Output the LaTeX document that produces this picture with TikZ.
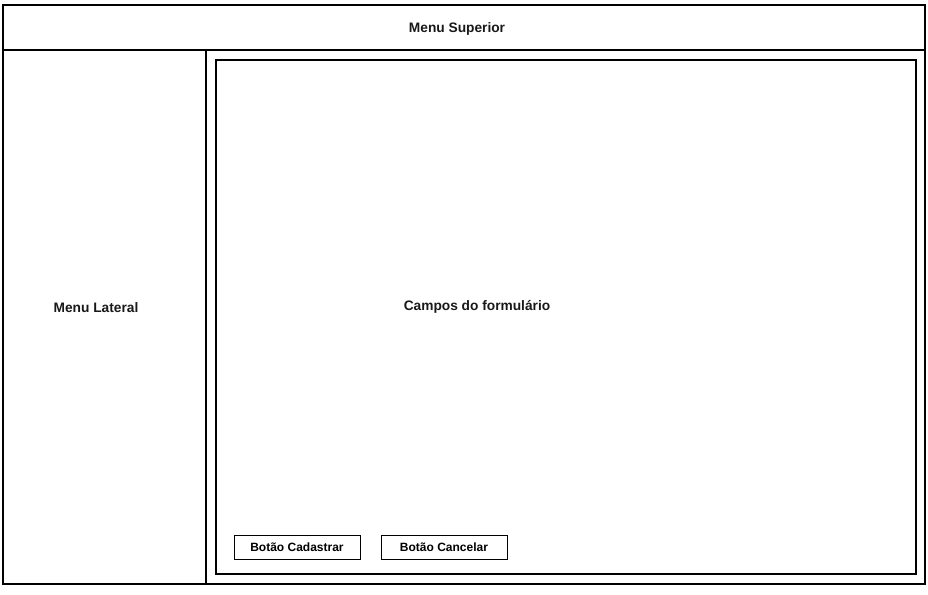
\documentclass[tikz,border=0pt]{standalone}
\usepackage{fontspec}
\setmainfont{Liberation Sans}
\begin{document}
\begin{tikzpicture}[x=0.75pt,y=-0.75pt,
  panel/.style={draw=black,line width=1.5pt,fill=none},
  btn/.style={draw=black,line width=0.75pt,fill=white,inner sep=0pt,minimum width=94.5pt,minimum height=18pt,font=\fontsize{9pt}{11pt}\selectfont\bfseries},
  lbl/.style={font=\fontsize{10.3pt}{12pt}\selectfont\bfseries,inner sep=0pt,text=black!90}]
\useasboundingbox (0,0) rectangle (928,594);
\fill[white] (0,0) rectangle (928,594);
\draw[panel] (3,5) rectangle (925,584);
\draw[panel] (3,50) -- (925,50);
\draw[panel] (206,50) -- (206,584);
\draw[panel] (216,60) rectangle (916,574);
\node[lbl] (top) at (457,28.5) {Menu Superior};
\node[lbl] (side) at (96,307.5) {Menu Lateral};
\node[lbl] (form) at (477,306.5) {Campos do formulário};
\node[btn] (cad) at (297,547) {Botão Cadastrar};
\node[btn] (can) at (444,547) {Botão Cancelar};
\end{tikzpicture}
\end{document}
